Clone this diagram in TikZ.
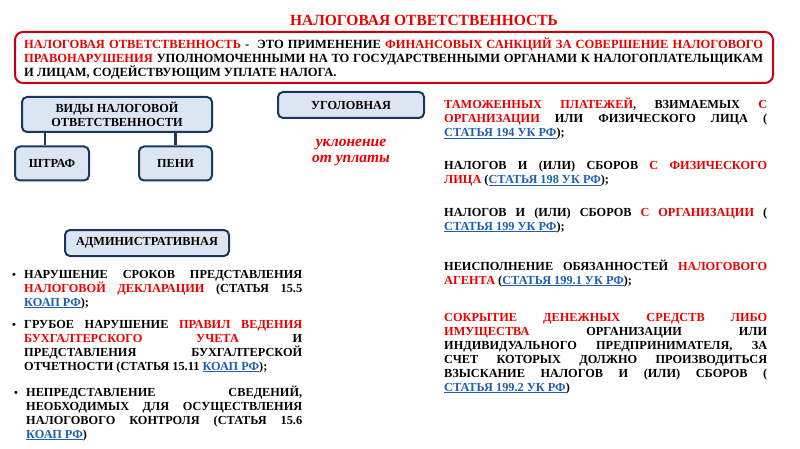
\documentclass[tikz,border=0pt]{standalone}
\usepackage{fontspec}
\setmainfont{Liberation Serif}
\usetikzlibrary{positioning}

\definecolor{krasny}{RGB}{235,0,0}
\definecolor{ramka}{RGB}{200,0,20}
\definecolor{sinij}{RGB}{25,55,95}
\definecolor{goluboj}{RGB}{220,230,242}
\definecolor{ssylka}{RGB}{30,95,175}

\newcommand{\kr}[1]{\textcolor{krasny}{#1}}
\newcommand{\uk}[1]{\textcolor{ssylka}{\underline{#1}}}

\hyphenpenalty=10000
\tolerance=10000
\hbadness=10000

\begin{document}
\begin{tikzpicture}[x=1pt, y=-1pt,
    vid/.style={draw=sinij, line width=2pt, fill=goluboj, rounded corners=5pt, align=center, inner sep=0pt, font=\bfseries\fontsize{12.3}{14}\selectfont},
    svyaz/.style={draw=sinij, line width=2.2pt},
    punkt/.style={anchor=base west, inner sep=0pt, align=justify, font=\bfseries\fontsize{12.3}{14}\selectfont},
    tochka/.style={anchor=base west, inner sep=0pt, font=\bfseries\fontsize{11}{14}\selectfont},
  ]
    \useasboundingbox (0,0) rectangle (800,449);

    % Заголовок
    \node[font=\bfseries\fontsize{15.5}{17}\selectfont, text=krasny, anchor=base] (zag) at (424,26) {НАЛОГОВАЯ ОТВЕТСТВЕННОСТЬ};

    % Определение
    \node[draw=ramka, line width=2pt, rounded corners=8pt, minimum width=758pt, minimum height=51pt] (opr) at (394,57.5) {};
    \node[punkt, text width=739pt, font=\bfseries\fontsize{12.5}{13.8}\selectfont] (oprtekst) at (24,48.5) {%
      \kr{НАЛОГОВАЯ ОТВЕТСТВЕННОСТЬ} -\ \ ЭТО ПРИМЕНЕНИЕ \kr{ФИНАНСОВЫХ САНКЦИЙ ЗА СОВЕРШЕНИЕ НАЛОГОВОГО\linebreak
      ПРАВОНАРУШЕНИЯ} УПОЛНОМОЧЕННЫМИ НА ТО ГОСУДАРСТВЕННЫМИ ОРГАНАМИ К НАЛОГОПЛАТЕЛЬЩИКАМ\linebreak
      И ЛИЦАМ, СОДЕЙСТВУЮЩИМ УПЛАТЕ НАЛОГА.%
    };

    % Виды ответственности
    \node[vid, minimum width=190pt, minimum height=35pt] (vidy) at (117,114.5) {ВИДЫ НАЛОГОВОЙ\\ОТВЕТСТВЕННОСТИ};
    \node[vid, minimum width=74pt, minimum height=34pt] (shtraf) at (52,163.5) {ШТРАФ};
    \node[vid, minimum width=73pt, minimum height=34pt] (peni) at (175.5,163.5) {ПЕНИ};
    \draw[svyaz] ([xshift=-7pt]shtraf.north) -- ([xshift=-7pt]shtraf.north |- vidy.south);
    \draw[svyaz] (peni.north) -- (peni.north |- vidy.south);

    \node[vid, minimum width=146pt, minimum height=26pt] (ugol) at (351,105) {УГОЛОВНАЯ};
    \node[font=\bfseries\itshape\fontsize{15.5}{16}\selectfont, text=krasny, align=center] (uklon) at (351,153) {уклонение\\от уплаты};

    \node[vid, minimum width=164pt, minimum height=26pt] (admin) at (147,243) {АДМИНИСТРАТИВНАЯ};

    % Административная
    \node[tochka] (t1) at (12,278) {•};
    \node[punkt, text width=278pt] (a1) at (24,278) {%
      НАРУШЕНИЕ СРОКОВ ПРЕДСТАВЛЕНИЯ\linebreak
      \kr{НАЛОГОВОЙ ДЕКЛАРАЦИИ} (СТАТЬЯ 15.5\linebreak
      \uk{КОАП РФ});%
    };
    \node[tochka] (t2) at (12,328) {•};
    \node[punkt, text width=278pt] (a2) at (24,328) {%
      ГРУБОЕ НАРУШЕНИЕ \kr{ПРАВИЛ ВЕДЕНИЯ\linebreak
      БУХГАЛТЕРСКОГО УЧЕТА} И\linebreak
      ПРЕДСТАВЛЕНИЯ БУХГАЛТЕРСКОЙ\linebreak
      ОТЧЕТНОСТИ (СТАТЬЯ 15.11 \uk{КОАП РФ});%
    };
    \node[tochka] (t3) at (14,396) {•};
    \node[punkt, text width=276pt] (a3) at (26,396) {%
      НЕПРЕДСТАВЛЕНИЕ СВЕДЕНИЙ,\linebreak
      НЕОБХОДИМЫХ ДЛЯ ОСУЩЕСТВЛЕНИЯ\linebreak
      НАЛОГОВОГО КОНТРОЛЯ (СТАТЬЯ 15.6\linebreak
      \uk{КОАП РФ})%
    };

    % Уголовная
    \node[punkt, text width=323pt] (u1) at (444,109) {%
      \kr{ТАМОЖЕННЫХ ПЛАТЕЖЕЙ}, ВЗИМАЕМЫХ \kr{С\linebreak
      ОРГАНИЗАЦИИ} ИЛИ ФИЗИЧЕСКОГО ЛИЦА (\linebreak
      \uk{СТАТЬЯ 194 УК РФ});%
    };
    \node[punkt, text width=323pt] (u2) at (444,170) {%
      НАЛОГОВ И (ИЛИ) СБОРОВ \kr{С ФИЗИЧЕСКОГО\linebreak
      ЛИЦА} (\uk{СТАТЬЯ 198 УК РФ});%
    };
    \node[punkt, text width=323pt] (u3) at (444,216) {%
      НАЛОГОВ И (ИЛИ) СБОРОВ \kr{С ОРГАНИЗАЦИИ} (\linebreak
      \uk{СТАТЬЯ 199 УК РФ});%
    };
    \node[punkt, text width=323pt] (u4) at (444,270) {%
      НЕИСПОЛНЕНИЕ ОБЯЗАННОСТЕЙ \kr{НАЛОГОВОГО\linebreak
      АГЕНТА} (\uk{СТАТЬЯ 199.1 УК РФ});%
    };
    \node[punkt, text width=323pt] (u5) at (444,321) {%
      \kr{СОКРЫТИЕ ДЕНЕЖНЫХ СРЕДСТВ ЛИБО\linebreak
      ИМУЩЕСТВА} ОРГАНИЗАЦИИ ИЛИ\linebreak
      ИНДИВИДУАЛЬНОГО ПРЕДПРИНИМАТЕЛЯ, ЗА\linebreak
      СЧЕТ КОТОРЫХ ДОЛЖНО ПРОИЗВОДИТЬСЯ\linebreak
      ВЗЫСКАНИЕ НАЛОГОВ И (ИЛИ) СБОРОВ (\linebreak
      \uk{СТАТЬЯ 199.2 УК РФ})%
    };
  \end{tikzpicture}
\end{document}
